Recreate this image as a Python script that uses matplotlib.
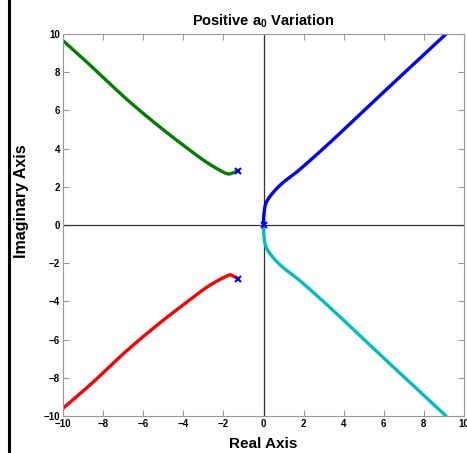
import numpy as np
import matplotlib
matplotlib.use("Agg")
import matplotlib.pyplot as plt
from matplotlib.lines import Line2D

plt.rcParams['font.family'] = ['Liberation Sans', 'DejaVu Sans']
plt.rcParams['mathtext.fontset'] = 'custom'
plt.rcParams['mathtext.rm'] = 'Liberation Sans'
plt.rcParams['mathtext.bf'] = 'Liberation Sans:bold'

# root locus branches (real, imag)
blue_re = [0.0, 0.02, 0.13, 0.47, 0.96, 1.8, 3.45, 5.95, 7.6, 9.1]
blue_im = [0.0, 0.55, 1.16, 1.69, 2.21, 2.9, 4.45, 6.92, 8.52, 10.0]
cyan_re = [0.0, 0.02, 0.13, 0.47, 0.96, 1.8, 3.45, 5.95, 7.6, 9.1]
cyan_im = [0.0, -0.55, -1.16, -1.69, -2.21, -2.9, -4.45, -6.92, -8.52, -10.0]
green_re = [-1.25, -1.53, -1.86, -2.67, -3.5, -5.16, -6.84, -8.5, -10.0]
green_im = [2.85, 2.73, 2.70, 3.17, 3.78, 5.12, 6.6, 8.23, 9.65]
red_re = [-1.25, -1.53, -1.76, -2.67, -3.5, -5.16, -6.84, -8.5, -10.0]
red_im = [-2.82, -2.67, -2.64, -3.15, -3.78, -5.12, -6.6, -8.23, -9.6]
pole_re = [0.0, -1.25, -1.25]
pole_im = [0.0, 2.84, -2.82]

ticks = np.arange(-10, 11, 2)


def smooth(xs, ys, n=30):
    # catmull-rom through the read points
    p = np.column_stack([xs, ys]).astype(float)
    p = np.vstack([2 * p[0] - p[1], p, 2 * p[-1] - p[-2]])
    out = []
    t = np.linspace(0, 1, n)[:, None]
    for i in range(1, len(p) - 2):
        p0, p1, p2, p3 = p[i - 1], p[i], p[i + 1], p[i + 2]
        seg = 0.5 * (2 * p1 + (-p0 + p2) * t + (2 * p0 - 5 * p1 + 4 * p2 - p3) * t ** 2
                     + (-p0 + 3 * p1 - 3 * p2 + p3) * t ** 3)
        out.append(seg)
    out = np.vstack(out)
    return out[:, 0], out[:, 1]


fig = plt.figure(figsize=(4.67, 4.53), dpi=100)
ax = fig.add_axes([63 / 467, 1 - 416 / 453, 401 / 467, 382 / 453])

ax.axhline(0, color='#333333', lw=0.9)
ax.axvline(0, color='#333333', lw=0.9)

for xs, ys, c in [(blue_re, blue_im, '#0000ff'), (cyan_re, cyan_im, '#00bfbf'),
                  (green_re, green_im, '#007f00'), (red_re, red_im, '#ff0000')]:
    sx, sy = smooth(xs, ys)
    ax.plot(sx, sy, color=c, lw=2.4, solid_capstyle='round')

ax.plot(pole_re, pole_im, 'x', color='#0000ff', ms=4, mew=1.5)

ax.set_xlim(-10, 10)
ax.set_ylim(-10, 10)
ax.set_xticks(ticks)
ax.set_yticks(ticks)
ax.tick_params(direction='in', length=4, color='#999999', top=True, right=True,
               labelsize=7, pad=2)
for lab in ax.get_xticklabels() + ax.get_yticklabels():
    lab.set_fontweight('bold')
for s in ax.spines.values():
    s.set_color('#999999')

ax.set_title(r'Positive a$_{\mathbf{0}}$ Variation', fontsize=10.5, fontweight='bold', pad=6)
ax.set_xlabel('Real Axis', fontsize=11, fontweight='bold', labelpad=6)
ax.set_ylabel('Imaginary Axis', fontsize=11.5, fontweight='bold', va='center')
ax.yaxis.set_label_coords(-0.103, 0.563)

fig.add_artist(Line2D([8.5 / 467, 8.5 / 467], [0, 1], color='black', lw=2.2,
                      transform=fig.transFigure))

fig.savefig('out.png', dpi=100)
